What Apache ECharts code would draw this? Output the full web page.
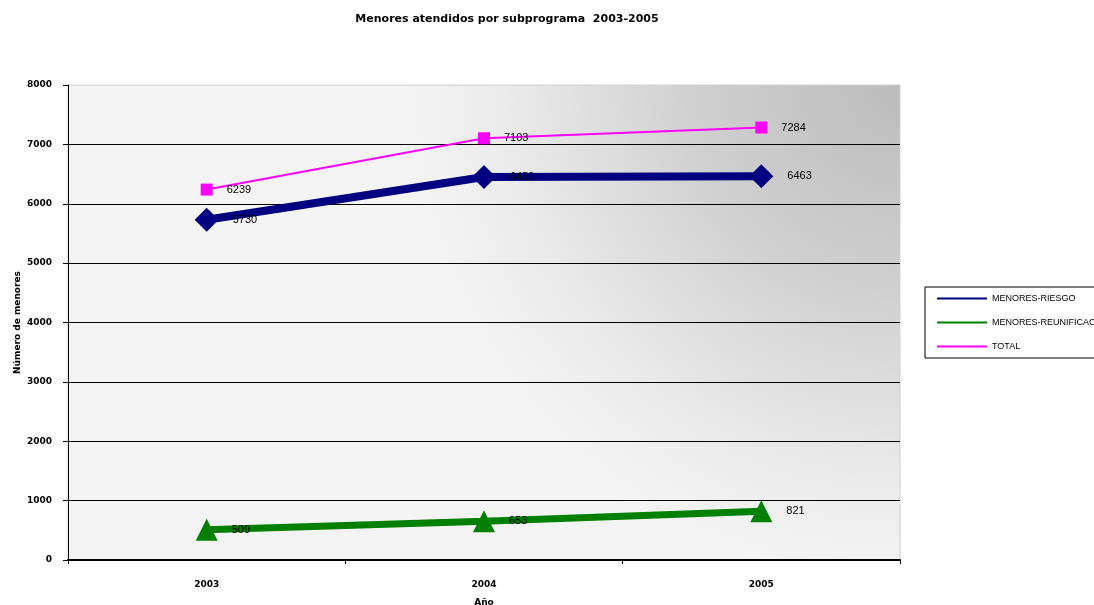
<!DOCTYPE html>
<html>
<head>
<meta charset="utf-8">
<script src="https://cdn.jsdelivr.net/npm/echarts@6/dist/echarts.min.js"></script>
<style>html,body{margin:0;padding:0;background:#fff;}#c{width:1094px;height:605px;}</style>
</head>
<body>
<div id="c"></div>
<script>
var categories = ['2003', '2004', '2005'];
var riesgo = [5730, 6450, 6463];
var reunific = [509, 653, 821];
var total = [6239, 7103, 7284];
var seriesNames = ['MENORES-RIESGO', 'MENORES-REUNIFICACIÓN', 'TOTAL'];
var yTicks = { min: 0, max: 8000, interval: 1000 };

var chart = echarts.init(document.getElementById('c'));
var F = 'Liberation Sans, Arial, sans-serif';
var FB = 'DejaVu Sans, sans-serif';
var lbl = { show: true, position: 'right', distance: 14, color: '#000', fontSize: 11, fontFamily: F };
chart.setOption({
  animation: false,
  title: {
    text: 'Menores atendidos por subprograma  2003-2005',
    left: 502, top: 9, textAlign: 'center',
    textStyle: { fontSize: 11, fontWeight: 'bold', fontFamily: FB, color: '#000' }
  },
  legend: {
    orient: 'vertical', left: 925, top: 287,
    padding: [7, 40, 7, 12], itemGap: 15, itemWidth: 50, itemHeight: 2,
    borderColor: '#000', borderWidth: 1, backgroundColor: '#fff',
    icon: 'rect',
    textStyle: { fontSize: 9, fontFamily: F, color: '#000' },
    data: seriesNames
  },
  grid: {
    left: 68, top: 85, right: 194, bottom: 45, show: true,
    outerBoundsMode: 'none',
    borderColor: '#d0d0d0', borderWidth: 1,
    backgroundColor: new echarts.graphic.RadialGradient(1, 0, 1.05, [
      { offset: 0, color: '#bcbcbc' },
      { offset: 0.4, color: '#cfcfcf' },
      { offset: 0.8, color: '#ebebeb' },
      { offset: 1, color: '#f4f4f4' }
    ])
  },
  xAxis: {
    type: 'category', data: categories, boundaryGap: true,
    name: 'Año', nameLocation: 'middle', nameGap: 38, nameMoveOverlap: false,
    nameTextStyle: { fontSize: 9, fontWeight: 'bold', fontFamily: FB, color: '#000' },
    axisLine: { lineStyle: { color: '#000', width: 2 } },
    axisTick: { show: true, length: 4, lineStyle: { color: '#000' } },
    axisLabel: { margin: 20, fontSize: 9, fontWeight: 'bold', fontFamily: FB, color: '#000' },
    splitLine: { show: false }
  },
  yAxis: {
    type: 'value', min: yTicks.min, max: yTicks.max, interval: yTicks.interval,
    name: 'Número de menores', nameLocation: 'middle', nameGap: 46, nameMoveOverlap: false,
    nameTextStyle: { fontSize: 9, fontWeight: 'bold', fontFamily: FB, color: '#000' },
    axisLine: { show: true, lineStyle: { color: '#000', width: 1 } },
    axisTick: { show: true, length: 5, lineStyle: { color: '#000' } },
    axisLabel: { margin: 16, fontSize: 9, fontWeight: 'bold', fontFamily: FB, color: '#000',
      formatter: function (v) { return String(v); } },
    splitLine: { show: true, showMaxLine: false, showMinLine: false, lineStyle: { color: '#000', width: 1 } }
  },
  series: [
    { name: seriesNames[0], type: 'line', data: riesgo, symbol: 'diamond', symbolSize: 24,
      lineStyle: { color: '#000080', width: 8 }, itemStyle: { color: '#000080' }, label: lbl, z: 3 },
    { name: seriesNames[1], type: 'line', data: reunific, symbol: 'triangle', symbolSize: 22,
      lineStyle: { color: '#008000', width: 7 }, itemStyle: { color: '#008000' }, label: lbl, z: 3 },
    { name: seriesNames[2], type: 'line', data: total, symbol: 'rect', symbolSize: 12,
      lineStyle: { color: '#ff00ff', width: 2 }, itemStyle: { color: '#ff00ff' }, label: lbl, z: 4 }
  ]
});
</script>
</body>
</html>
